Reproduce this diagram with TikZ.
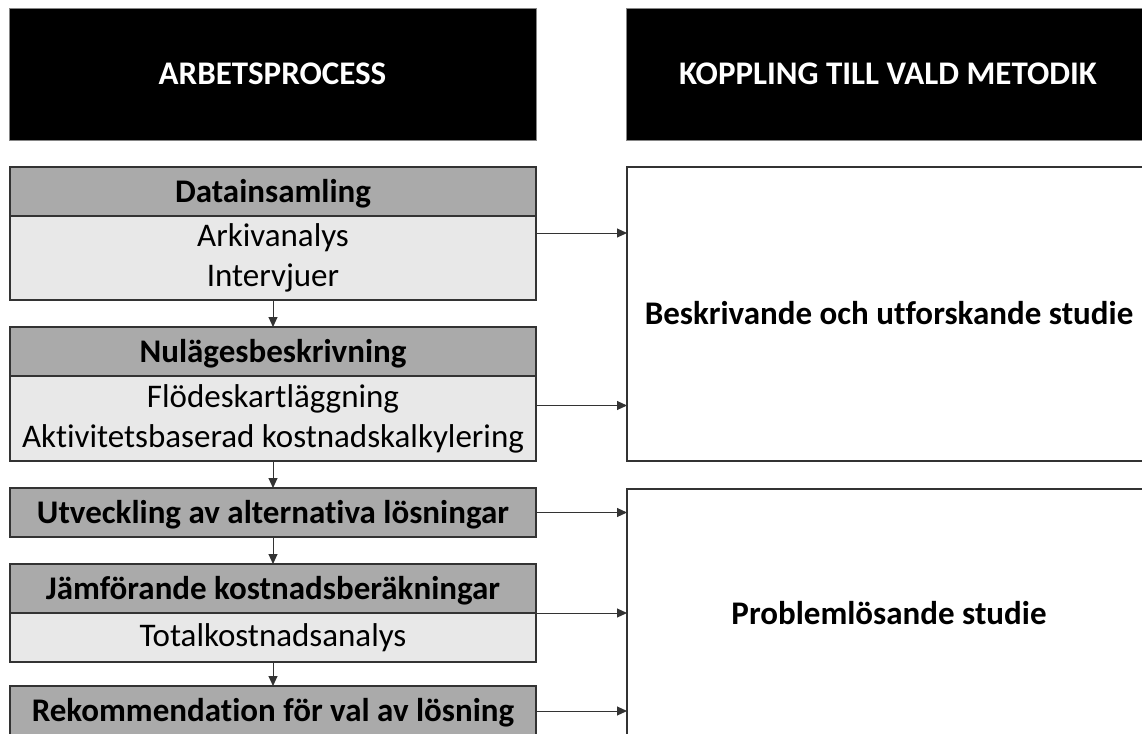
\documentclass[tikz,border=0pt]{standalone}
\usepackage{fontspec}
\setmainfont{Carlito}[Ligatures=NoCommon]
\usepackage{xcolor}
\definecolor{cLine}{HTML}{333333}
\definecolor{cHead}{HTML}{AAAAAA}
\definecolor{cSub}{HTML}{E8E8E8}
\usetikzlibrary{positioning,arrows.meta,calc}
\tikzset{
  title-box/.style={draw=cLine!60,fill=black,text=white,
    font=\fontsize{33}{36}\selectfont\bfseries,minimum height=132pt,
    text height=21pt,text depth=0pt,inner sep=0pt,outer sep=0pt},
  step-head/.style={draw=cLine,line width=1.5pt,fill=cHead,
    font=\fontsize{33}{36}\selectfont\bfseries,minimum width=526pt,
    minimum height=49pt,text height=21pt,text depth=0pt,
    inner sep=0pt,outer sep=0pt},
  step-sub/.style={draw=cLine,line width=1.5pt,fill=cSub,align=center,
    font=\fontsize{33}{40}\selectfont,minimum width=526pt,
    inner sep=0pt,outer sep=0pt},
  method-box/.style={draw=cLine,line width=1.5pt,fill=white,
    font=\fontsize{33}{36}\selectfont\bfseries,minimum width=524pt,
    text height=21pt,text depth=0pt,inner sep=0pt,outer sep=0pt},
  arrow/.style={-{Triangle[length=10pt,width=9pt]},line width=1pt,draw=cLine},
}

\begin{document}
\begin{tikzpicture}[x=1pt,y=1pt]
  \useasboundingbox (0,0) rectangle (1142,-733);
  \clip (0,0) rectangle (1142,-733);
  % rubriker
  \node[title-box,minimum width=527pt] (hdr-proc) at (272.5,-74) {ARBETSPROCESS};
  \node[title-box,minimum width=524pt] (hdr-meth) at (888,-74) {KOPPLING TILL VALD METODIK};
  % arbetsprocessen
  \node[step-head] (dh) at (273,-191.5) {Datainsamling};
  \node[step-sub,minimum height=84pt,below=0pt of dh] (ds) {Arkivanalys\\Intervjuer};
  \node[step-head,below=27pt of ds] (nh) {Nulägesbeskrivning};
  \node[step-sub,minimum height=85pt,below=0pt of nh] (ns) {Flödeskartläggning\\Aktivitetsbaserad kostnadskalkylering};
  \node[step-head,below=27pt of ns] (uh) {Utveckling av alternativa lösningar};
  \node[step-head,below=27pt of uh] (jh) {Jämförande kostnadsberäkningar};
  \node[step-sub,minimum height=49pt,below=0pt of jh] (js) {Totalkostnadsanalys};
  \node[step-head,minimum height=50pt,below=24pt of js] (rh) {Rekommendation för val av lösning};
  % metodik
  \node[method-box,minimum height=294pt,anchor=north west] (b1) at (627,-167) {Beskrivande och utforskande studie};
  \node[method-box,minimum height=249pt,anchor=north west] (b2) at (627,-489) {Problemlösande studie};
  \draw[arrow] (ds) -- (nh);
  \draw[arrow] (ns) -- (uh);
  \draw[arrow] (uh) -- (jh);
  \draw[arrow] (js) -- (rh);
  \draw[arrow] ([yshift=25pt]ds.east) -- ([yshift=25pt]ds.east -| b1.west);
  \draw[arrow] ([yshift=13pt]ns.east) -- ([yshift=13pt]ns.east -| b1.west);
  \draw[arrow] (uh.east) -- (uh.east -| b2.west);
  \draw[arrow] (jh.south east) -- (jh.south east -| b2.west);
  \draw[arrow] (rh.east) -- (rh.east -| b2.west);
\end{tikzpicture}
\end{document}
